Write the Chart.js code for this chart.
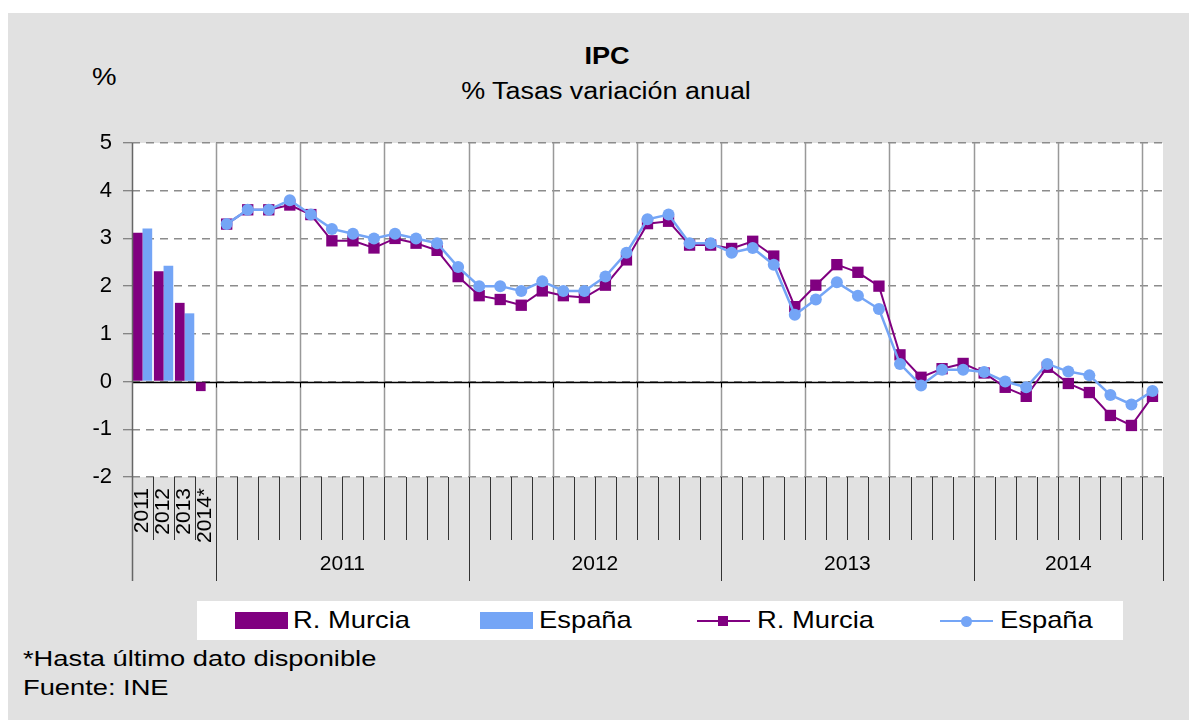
<!DOCTYPE html>
<html>
<head>
<meta charset="utf-8">
<script src="https://cdn.jsdelivr.net/npm/chart.js@4.4.0/dist/chart.umd.min.js"></script>
<style>
  html, body { margin: 0; padding: 0; background: #fff; }
  body { width: 1189px; height: 720px; position: relative; overflow: hidden;
         font-family: "Liberation Sans", Arial, sans-serif; color: #000; }
  #panel { position: absolute; left: 8px; top: 13px; right: 0; bottom: 0; background: #e1e1e1; }
  #chartBox { position: absolute; left: 0; top: 0; width: 1189px; height: 600px; }
  .txt { position: absolute; white-space: nowrap; line-height: 1; transform-origin: 0 0; }
  .ctr { transform-origin: 50% 0; }
  #legend { position: absolute; left: 197px; top: 601px; width: 926px; height: 39px; background: #fff; }
  .sw { position: absolute; }
</style>
</head>
<body>
<div id="panel"></div>

<div class="txt ctr" style="left:507px;width:200px;text-align:center;top:45px;font-size:23px;font-weight:bold;transform:scaleX(1.18)">IPC</div>
<div class="txt ctr" style="left:406px;width:400px;text-align:center;top:80px;font-size:23px;transform:scaleX(1.17)">% Tasas variación anual</div>
<div class="txt" style="left:92px;top:65px;font-size:24px;transform:scaleX(1.15)">%</div>

<div id="chartBox"><canvas id="ipcChart"></canvas></div>

<div id="legend"></div>

<div class="txt" style="left:23px;top:648px;font-size:22px;transform:scaleX(1.24)">*Hasta último dato disponible</div>
<div class="txt" style="left:23px;top:677px;font-size:22px;transform:scaleX(1.24)">Fuente: INE</div>

<script>
// annual averages (bars)
const barCategories = ['2011', '2012', '2013', '2014*'];
const murciaAnual = [3.12, 2.31, 1.65, -0.2];
const espanaAnual = [3.21, 2.43, 1.43, 0.0];

// monthly year-on-year rates, Jan 2011 - Sep 2014
const years = ['2011', '2012', '2013', '2014'];
const monthsPerYear = [12, 12, 12, 9];
const murciaMensual = [
  3.3, 3.6, 3.6, 3.7, 3.5, 2.95, 2.95, 2.8, 3.0, 2.9, 2.75, 2.2,
  1.8, 1.72, 1.6, 1.9, 1.8, 1.76, 2.02, 2.55, 3.31, 3.36, 2.86, 2.86,
  2.79, 2.94, 2.63, 1.57, 2.02, 2.45, 2.29, 2.0, 0.56, 0.09, 0.27, 0.38,
  0.18, -0.12, -0.31, 0.3, -0.04, -0.23, -0.71, -0.92, -0.31
];
const espanaMensual = [
  3.3, 3.6, 3.6, 3.8, 3.5, 3.2, 3.1, 3.0, 3.1, 3.0, 2.9, 2.4,
  2.0, 2.0, 1.9, 2.1, 1.9, 1.9, 2.2, 2.7, 3.4, 3.5, 2.9, 2.9,
  2.7, 2.8, 2.45, 1.4, 1.72, 2.08, 1.8, 1.52, 0.37, -0.08, 0.25, 0.25,
  0.2, 0.0, -0.12, 0.37, 0.21, 0.13, -0.28, -0.48, -0.2
];

const yTicks = { min: -2, max: 5, step: 1 };

const PURPLE = '#800080';
const BLUE = '#74a5f6';
const FONT = '"Liberation Sans", Arial, sans-serif';

// build the category list: 4 annual slots followed by one slot per month
const monthLabels = [];
years.forEach((y, k) => {
  for (let m = 1; m <= monthsPerYear[k]; m++) monthLabels.push(y + '-' + String(m).padStart(2, '0'));
});
const labels = barCategories.concat(monthLabels);
const padBars = arr => arr.concat(Array(monthLabels.length).fill(null));
const padLines = arr => Array(barCategories.length).fill(null).concat(arr);

// slot boundaries that get the long separator ticks
const groupEdges = [0, barCategories.length];
monthsPerYear.forEach(n => groupEdges.push(groupEdges[groupEdges.length - 1] + n));

const decor = {
    id: 'decor',
    beforeDraw(chart) {
        const { ctx, chartArea: a } = chart;
        ctx.save();
        ctx.fillStyle = '#fff';
        ctx.fillRect(a.left, a.top, a.right - a.left, a.bottom - a.top);
        ctx.restore();
    },
    beforeDatasetsDraw(chart) {
        const { ctx, chartArea: a, scales: { x, y } } = chart;
        const half = (x.getPixelForValue(1) - x.getPixelForValue(0)) / 2;
        ctx.save();
        // quarterly vertical gridlines
        ctx.strokeStyle = '#999';
        ctx.lineWidth = 1.5;
        for (let i = barCategories.length; i < labels.length; i += 4) {
            const px = Math.round(x.getPixelForValue(i) - half) + 0.5;
            ctx.beginPath(); ctx.moveTo(px, a.top); ctx.lineTo(px, a.bottom); ctx.stroke();
        }
        // zero line
        const y0 = Math.round(y.getPixelForValue(0)) + 0.5;
        ctx.strokeStyle = '#000';
        ctx.lineWidth = 1.5;
        ctx.beginPath(); ctx.moveTo(a.left, y0); ctx.lineTo(a.right, y0); ctx.stroke();
        ctx.lineWidth = 1;
        for (let i = 0; i < labels.length; i += 4) {
            const px = Math.round(x.getPixelForValue(i) - half) + 0.5;
            ctx.beginPath(); ctx.moveTo(px, y0); ctx.lineTo(px, y0 + 5); ctx.stroke();
        }
        ctx.restore();
    },
    afterDraw(chart) {
        const { ctx, chartArea: a, scales: { x } } = chart;
        const half = (x.getPixelForValue(1) - x.getPixelForValue(0)) / 2;
        ctx.save();
        // left axis line
        ctx.strokeStyle = '#666';
        ctx.lineWidth = 1.5;
        ctx.beginPath(); ctx.moveTo(a.left + 0.5, a.top); ctx.lineTo(a.left + 0.5, a.bottom + 104); ctx.stroke();
        // tick marks under the plot
        ctx.strokeStyle = '#333';
        ctx.lineWidth = 1;
        for (let i = 1; i <= labels.length; i++) {
            const px = Math.round(x.getPixelForValue(i - 1) + half) + 0.5;
            const long = groupEdges.includes(i);
            ctx.beginPath(); ctx.moveTo(px, a.bottom); ctx.lineTo(px, a.bottom + (long ? 104 : 63)); ctx.stroke();
        }
        // year labels
        ctx.fillStyle = '#000';
        ctx.font = '21px ' + FONT;
        ctx.textAlign = 'center';
        ctx.textBaseline = 'middle';
        years.forEach((yr, k) => {
            const i0 = groupEdges[k + 1], i1 = groupEdges[k + 2] - 1;
            const cx = (x.getPixelForValue(i0) + x.getPixelForValue(i1)) / 2;
            ctx.fillText(yr, cx, a.bottom + 87);
        });
        ctx.restore();
    }
};

function initIpcChart() {
    const ctx = document.getElementById('ipcChart').getContext('2d');
    new Chart(ctx, {
        type: 'bar',
        data: {
            labels: labels,
            datasets: [
                { type: 'line', label: 'España', data: padLines(espanaMensual), order: 0,
                  borderColor: BLUE, backgroundColor: BLUE, borderWidth: 2.5,
                  pointStyle: 'circle', pointRadius: 6, pointBorderWidth: 0, pointBackgroundColor: BLUE,
                  tension: 0 },
                { type: 'line', label: 'R. Murcia', data: padLines(murciaMensual), order: 1,
                  borderColor: PURPLE, backgroundColor: PURPLE, borderWidth: 2,
                  pointStyle: 'rect', pointRadius: 8, pointBorderWidth: 0, pointBackgroundColor: PURPLE,
                  tension: 0 },
                { label: 'R. Murcia', data: padBars(murciaAnual), order: 2,
                  backgroundColor: PURPLE, borderWidth: 0, categoryPercentage: 0.92, barPercentage: 1 },
                { label: 'España', data: padBars(espanaAnual), order: 3,
                  backgroundColor: BLUE, borderWidth: 0, categoryPercentage: 0.92, barPercentage: 1 }
            ]
        },
        options: {
            responsive: true,
            maintainAspectRatio: false,
            animation: false,
            layout: { padding: { top: 143, right: 26, left: 0, bottom: 0 } },
            plugins: { legend: { display: false }, tooltip: { enabled: false }, title: { display: false } },
            scales: {
                x: {
                    type: 'category',
                    offset: true,
                    grid: { display: false, drawTicks: false },
                    border: { display: false },
                    ticks: {
                        autoSkip: false, minRotation: 90, maxRotation: 90, padding: 11,
                        color: '#000', font: { family: FONT, size: 21 },
                        callback: (v, i) => i < barCategories.length ? barCategories[i] : ''
                    },
                    afterFit: s => { s.height = 123; }
                },
                y: {
                    min: yTicks.min, max: yTicks.max,
                    grid: { color: '#8c8c8c', lineWidth: 1.5, tickLength: 9, tickColor: '#666', tickWidth: 1, tickBorderDash: [] },
                    border: { display: false, dash: [8, 6] },
                    ticks: { stepSize: yTicks.step, padding: 11, color: '#000', font: { family: FONT, size: 22 } },
                    afterFit: s => { s.width = 132; }
                }
            }
        },
        plugins: [decor]
    });
}

function buildLegend() {
    const box = document.getElementById('legend');
    const items = [
        { kind: 'bar', color: PURPLE, text: 'R. Murcia', x: 38, tx: 96 },
        { kind: 'bar', color: BLUE, text: 'España', x: 283, tx: 342 },
        { kind: 'rect', color: PURPLE, text: 'R. Murcia', x: 500, tx: 560 },
        { kind: 'circle', color: BLUE, text: 'España', x: 743, tx: 803 }
    ];
    items.forEach(it => {
        if (it.kind === 'bar') {
            const s = document.createElement('div');
            s.className = 'sw';
            s.style.cssText = `left:${it.x}px;top:11px;width:53px;height:17px;background:${it.color}`;
            box.appendChild(s);
        } else {
            const l = document.createElement('div');
            l.className = 'sw';
            l.style.cssText = `left:${it.x}px;top:19px;width:53px;height:2px;background:${it.color}`;
            box.appendChild(l);
            const m = document.createElement('div');
            m.className = 'sw';
            const r = it.kind === 'rect' ? 10 : 11;
            m.style.cssText = `left:${it.x + 26 - r / 2}px;top:${20 - r / 2}px;width:${r}px;height:${r}px;background:${it.color};` +
                (it.kind === 'circle' ? 'border-radius:50%' : '');
            box.appendChild(m);
        }
        const t = document.createElement('div');
        t.className = 'txt';
        t.style.cssText = `left:${it.tx}px;top:7px;font-size:24px;transform:scaleX(1.14)`;
        t.textContent = it.text;
        box.appendChild(t);
    });
}

document.addEventListener('DOMContentLoaded', function () {
    buildLegend();
    initIpcChart();
});
</script>
</body>
</html>
